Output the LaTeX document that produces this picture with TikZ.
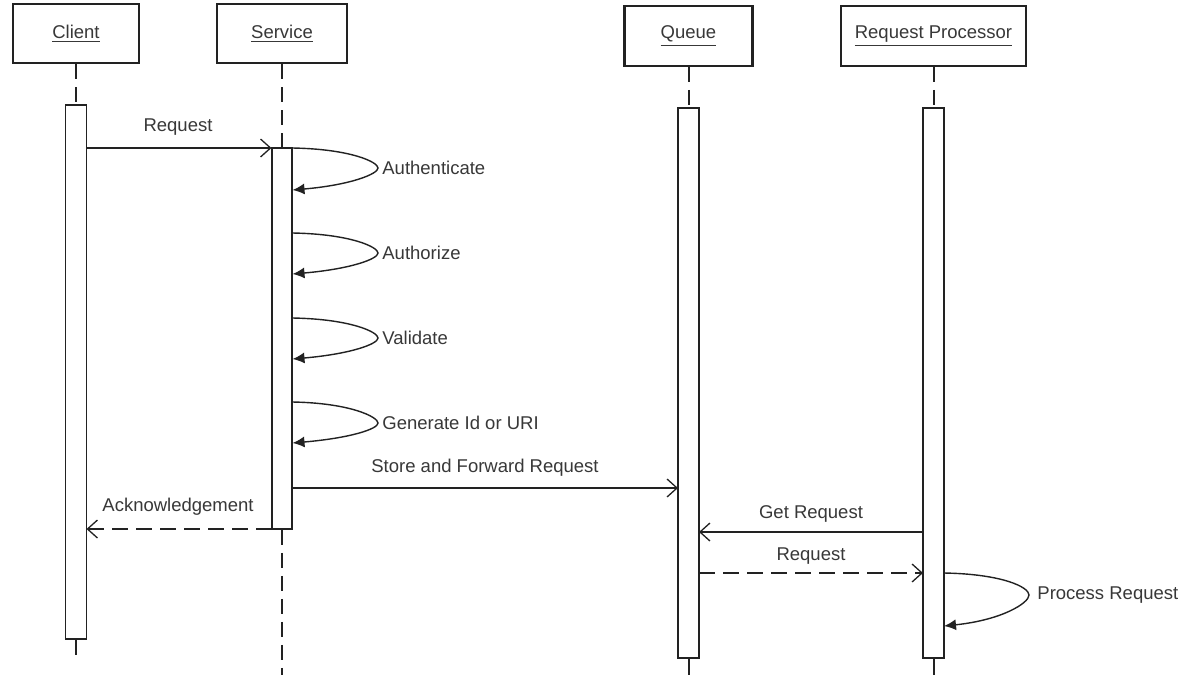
\documentclass[tikz,border=0pt]{standalone}
\usepackage{fontspec}
\setmainfont{Liberation Sans}
\usetikzlibrary{arrows.meta}
\definecolor{ink}{HTML}{222222}
\definecolor{txt}{HTML}{383838}
\begin{document}
\begin{tikzpicture}[x=0.5pt,y=-0.5pt,
  every node/.style={font=\fontsize{9.25}{11}\selectfont, text=txt},
  actor/.style={draw=ink, line width=1.1pt, fill=white, inner sep=0pt, minimum height=29.75pt},
  actbar/.style={draw=ink, line width=0.75pt, fill=white, inner sep=0pt, minimum width=10.5pt},
  lifeline/.style={draw=ink, line width=1pt, dash pattern=on 7.5pt off 4pt},
  stub/.style={draw=ink, line width=1pt},
  msg/.style={draw=ink, line width=0.65pt, -{Straight Barb[length=5pt,width=9pt]}},
  reply/.style={draw=ink, line width=1pt, dash pattern=on 8pt off 4pt, -{Straight Barb[length=5pt,width=9pt,line width=0.65pt]}},
  selfcall/.style={draw=ink, line width=0.7pt, -{Latex[length=6pt,width=5.5pt]}},
  lbl/.style={inner sep=0pt},
  sidelbl/.style={inner sep=0pt, anchor=west}]
\useasboundingbox[fill=white] (0,0) rectangle (1182,675);

% participants
\node[actor, minimum width=63pt] (client) at (76,33.5) {\underline{Client}};
\node[actor, minimum width=65pt] (service) at (282,33.5) {\underline{Service}};
\node[actor, minimum width=64pt] (queue) at (688.5,36) {\underline{Queue}};
\node[actor, minimum width=92.5pt] (proc) at (933.5,36) {\underline{Request Processor}};

% activation bars
\node[actbar, minimum height=267pt] (ca) at (76,372) {};
\node[actbar, minimum width=10pt, minimum height=190.5pt] (sa) at (282,338.5) {};
\node[actbar, minimum height=275pt] (qa) at (688.5,383) {};
\node[actbar, minimum height=275pt] (pa) at (933.5,383) {};

% lifeline ends
\coordinate (cend) at (76,655);
\coordinate (send) at (282,675);
\coordinate (qend) at (688.5,675);
\coordinate (pend) at (933.5,675);

\draw[lifeline] (client.south) -- (ca.north);
\draw[lifeline] (service.south) -- (sa.north);
\draw[lifeline] (queue.south) -- (qa.north);
\draw[lifeline] (proc.south) -- (pa.north);
\draw[stub] (ca.south) -- (cend);
\draw[lifeline] (sa.south) -- (send);
\draw[stub] (qa.south) -- (qend);
\draw[stub] (pa.south) -- (pend);

% message end points
\coordinate (m1s) at (86.5,148);  \coordinate (m1e) at (271.5,148);
\coordinate (m2s) at (292.5,488); \coordinate (m2e) at (678,488);
\coordinate (m3s) at (271.5,529); \coordinate (m3e) at (86.5,529);
\coordinate (m4s) at (923,532);   \coordinate (m4e) at (699,532);
\coordinate (m5s) at (699,573);   \coordinate (m5e) at (923,573);

% self-call points
\coordinate (a1s) at (292.5,148); \coordinate (a1m) at (378,168); \coordinate (a1e) at (292.5,190);
\coordinate (a2s) at (292.5,233); \coordinate (a2m) at (378,253); \coordinate (a2e) at (292.5,274);
\coordinate (a3s) at (292.5,318); \coordinate (a3m) at (378,338); \coordinate (a3e) at (292.5,359);
\coordinate (a4s) at (292.5,402); \coordinate (a4m) at (378,423); \coordinate (a4e) at (292.5,443);
\coordinate (a5s) at (944,573);   \coordinate (a5m) at (1029,595); \coordinate (a5e) at (944,626);

% messages
\draw[msg] (m1s) -- (m1e);
\node[lbl] (l1) at (178,127) {Request};
\draw[msg] (m2s) -- (m2e);
\node[lbl] (l2) at (485,468) {Store and Forward Request};
\draw[reply] (m3s) -- (m3e);
\node[lbl] (l3) at (178,507) {Acknowledgement};
\draw[msg] (m4s) -- (m4e);
\node[lbl] (l4) at (811,514) {Get Request};
\draw[reply] (m5s) -- (m5e);
\node[lbl] (l5) at (811,556) {Request};

% self calls
\draw[selfcall] (a1s) .. controls +(58,1) and +(0,-6) .. (a1m) .. controls +(0,6) and +(58,-5) .. (a1e);
\node[sidelbl] (s1) at (382,168) {Authenticate};
\draw[selfcall] (a2s) .. controls +(58,1) and +(0,-6) .. (a2m) .. controls +(0,6) and +(58,-5) .. (a2e);
\node[sidelbl] (s2) at (382,253) {Authorize};
\draw[selfcall] (a3s) .. controls +(58,1) and +(0,-6) .. (a3m) .. controls +(0,6) and +(58,-5) .. (a3e);
\node[sidelbl] (s3) at (382,338) {Validate};
\draw[selfcall] (a4s) .. controls +(58,1) and +(0,-6) .. (a4m) .. controls +(0,6) and +(58,-5) .. (a4e);
\node[sidelbl] (s4) at (382,423) {Generate Id or URI};
\draw[selfcall] (a5s) .. controls +(58,1) and +(0,-8) .. (a5m) .. controls +(0,8) and +(58,-6) .. (a5e);
\node[sidelbl] (s5) at (1037,595) {Process Request};
\end{tikzpicture}
\end{document}
